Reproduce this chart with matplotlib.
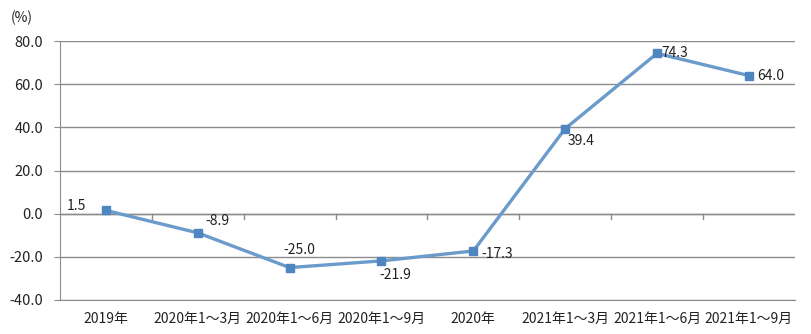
import matplotlib.pyplot as plt
import numpy as np

plt.rcParams['font.family'] = ['Noto Sans CJK SC', 'DejaVu Sans']

periods = ['2019年', '2020年1～3月', '2020年1～6月', '2020年1～9月',
           '2020年', '2021年1～3月', '2021年1～6月', '2021年1～9月']
growth = [1.5, -8.9, -25.0, -21.9, -17.3, 39.4, 74.3, 64.0]
# label offsets in pixels (dx, dy) and horizontal alignment
label_pos = [(-20, 4, 'right'), (8, 12, 'left'), (10, 18, 'center'),
             (-2, -14, 'left'), (8, -3, 'left'), (2, -12, 'left'),
             (4, 0, 'left'), (8, 0, 'left')]

grid_c = '#8c8c8c'
line_c = '#6b9bcb'
mark_c = '#4f86c0'

fig = plt.figure(figsize=(8.11, 3.34), dpi=100)
ax = fig.add_axes([0.074, 0.102, 0.906, 0.775])

x = np.arange(len(periods))
ax.plot(x, growth, color=line_c, lw=2.4, marker='s', ms=6,
        mfc=mark_c, mec=mark_c, zorder=3)

for xi, v, (dx, dy, ha) in zip(x, growth, label_pos):
    ax.annotate(f'{v:.1f}', (xi, v), xytext=(dx, dy), textcoords='offset pixels',
                ha=ha, va='center', fontsize=10, color='#222222')

ax.set_xlim(-0.5, len(periods) - 0.5)
ax.set_ylim(-40, 80)
ax.set_yticks(np.arange(-40, 81, 20))
ax.set_yticklabels([f'{t:.1f}' for t in np.arange(-40, 81, 20)])
ax.yaxis.grid(True, color=grid_c, lw=1)
ax.set_axisbelow(True)

ax.set_xticks(x)
ax.set_xticklabels(periods)
ax.tick_params(axis='x', length=0, pad=9, labelsize=10, labelcolor='#222222')
ax.tick_params(axis='y', length=4, color=grid_c, pad=8, labelsize=10.5,
               labelcolor='#222222')

# category axis crosses at zero, with tick marks between categories
ax.axhline(0, color=grid_c, lw=1, zorder=1)
for b in np.arange(0.5, len(periods) - 0.5, 1):
    ax.plot([b, b], [0, -2.3], color=grid_c, lw=1, zorder=1)

for s in ['top', 'right']:
    ax.spines[s].set_visible(False)
ax.spines['left'].set_color(grid_c)
ax.spines['bottom'].set_color(grid_c)

fig.text(0.013, 0.945, '(%)', fontsize=10, color='#222222', va='center')

fig.savefig('out.png', dpi=100, facecolor='white')
